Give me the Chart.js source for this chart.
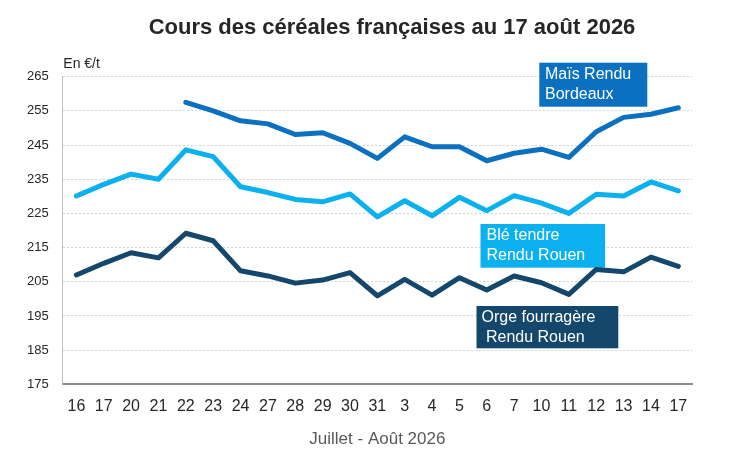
<!DOCTYPE html>
<html>
<head>
<meta charset="utf-8">
<script src="https://cdn.jsdelivr.net/npm/chart.js@4"></script>
<style>
html,body{margin:0;padding:0;background:#fff;}
#wrap{width:747px;height:471px;position:relative;}
</style>
</head>
<body>
<div id="wrap"><canvas id="c" width="747" height="471"></canvas></div>
<script>
const categories = ['16','17','20','21','22','23','24','27','28','29','30','31','3','4','5','6','7','10','11','12','13','14','17'];
const maisBordeaux = [null,null,null,null,257.5,255.0,252.1,251.2,248.1,248.6,245.5,241.1,247.4,244.5,244.5,240.4,242.6,243.8,241.4,248.9,253.1,254.0,255.9];
const bleRouen     = [230.1,233.5,236.5,235.0,243.6,241.6,232.8,231.1,229.1,228.4,230.7,224.0,228.7,224.3,229.7,225.8,230.2,228.0,225.0,230.6,230.1,234.2,231.6];
const orgeRouen    = [207.0,210.4,213.5,212.0,219.2,217.0,208.2,206.7,204.6,205.5,207.7,200.9,205.7,201.1,206.2,202.6,206.7,204.7,201.3,208.6,207.9,212.2,209.5];
const yTicks = [175,185,195,205,215,225,235,245,255,265];

const seriesNames = ['Maïs Rendu Bordeaux','Blé tendre Rendu Rouen','Orge fourragère Rendu Rouen'];
const chartTitle = 'Cours des céréales françaises au 17 août 2026';
const unitLabel = 'En €/t';
const xTitle = 'Juillet - Août 2026';
const labelBoxes = [
  {lines:['Maïs Rendu','Bordeaux'], color:'#0a70bf', x:539.3, y:62.7, w:108, h:44, tx:545, ty:[79.3,99.3]},
  {lines:['Blé tendre','Rendu Rouen'], color:'#0bb0ee', x:480.5, y:224, w:124.5, h:43.7, tx:486.5, ty:[240,260]},
  {lines:['Orge fourragère',' Rendu Rouen'], color:'#14476b', x:476.5, y:306, w:141.8, h:42.3, tx:481.5, ty:[322,342]}
];

const extras = {
  id:'extras',
  beforeDatasetsDraw(chart){
    const ctx = chart.ctx;
    ctx.save();
    labelBoxes.forEach(b=>{
      ctx.fillStyle = b.color;
      ctx.fillRect(b.x,b.y,b.w,b.h);
      ctx.fillStyle = '#ffffff';
      ctx.font = '16px "Liberation Sans", Arial, sans-serif';
      ctx.textBaseline = 'alphabetic';
      ctx.textAlign = 'left';
      b.lines.forEach((t,i)=>ctx.fillText(t,b.tx,b.ty[i]));
    });
    ctx.restore();
  },
  afterDraw(chart){
    const ctx = chart.ctx;
    ctx.save();
    ctx.textBaseline = 'alphabetic';
    ctx.fillStyle = '#262626';
    ctx.font = 'bold 22px "Liberation Sans", Arial, sans-serif';
    ctx.textAlign = 'center';
    ctx.fillText(chartTitle, 392, 34.3);
    ctx.font = '14px "Liberation Sans", Arial, sans-serif';
    ctx.textAlign = 'left';
    ctx.fillText(unitLabel, 63.3, 67.7);
    ctx.restore();
  }
};

new Chart(document.getElementById('c'), {
  type:'line',
  data:{
    labels: categories,
    datasets:[
      {label:seriesNames[0], data:maisBordeaux, borderColor:'#0a70bf', backgroundColor:'#0a70bf', borderWidth:5, pointRadius:0, tension:0, spanGaps:false, borderCapStyle:'round', borderJoinStyle:'round'},
      {label:seriesNames[1], data:bleRouen, borderColor:'#0bb0ee', backgroundColor:'#0bb0ee', borderWidth:5, pointRadius:0, tension:0, borderCapStyle:'round', borderJoinStyle:'round'},
      {label:seriesNames[2], data:orgeRouen, borderColor:'#14476b', backgroundColor:'#14476b', borderWidth:5, pointRadius:0, tension:0, borderCapStyle:'round', borderJoinStyle:'round'}
    ]
  },
  options:{
    responsive:false,
    animation:false,
    layout:{padding:{left:0,right:55,top:76.7,bottom:0}},
    plugins:{
      legend:{display:false},
      tooltip:{enabled:false},
      title:{display:false}
    },
    scales:{
      x:{
        type:'category',
        offset:true,
        grid:{display:false, drawTicks:false},
        border:{display:true, color:'#8c8c8c', width:2},
        ticks:{color:'#262626', font:{family:'"Liberation Sans", Arial, sans-serif', size:16}, padding:13, maxRotation:0, autoSkip:false},
        title:{display:true, text:xTitle, color:'#595959', font:{family:'"Liberation Sans", Arial, sans-serif', size:17}, padding:{top:0,bottom:21}},
        afterFit(s){ s.height = 86.7; }
      },
      y:{
        min:175, max:265,
        afterBuildTicks(s){ s.ticks = yTicks.map(v=>({value:v})); },
        grid:{color:'#d4d4d4', lineWidth:1, drawTicks:false},
        border:{display:true, color:'#bfbfbf', width:1, dash:[2,2]},
        ticks:{color:'#262626', font:{family:'"Liberation Sans", Arial, sans-serif', size:13}, padding:14},
        afterFit(s){ s.width = 62.7; }
      }
    }
  },
  plugins:[extras]
});
</script>
</body>
</html>
